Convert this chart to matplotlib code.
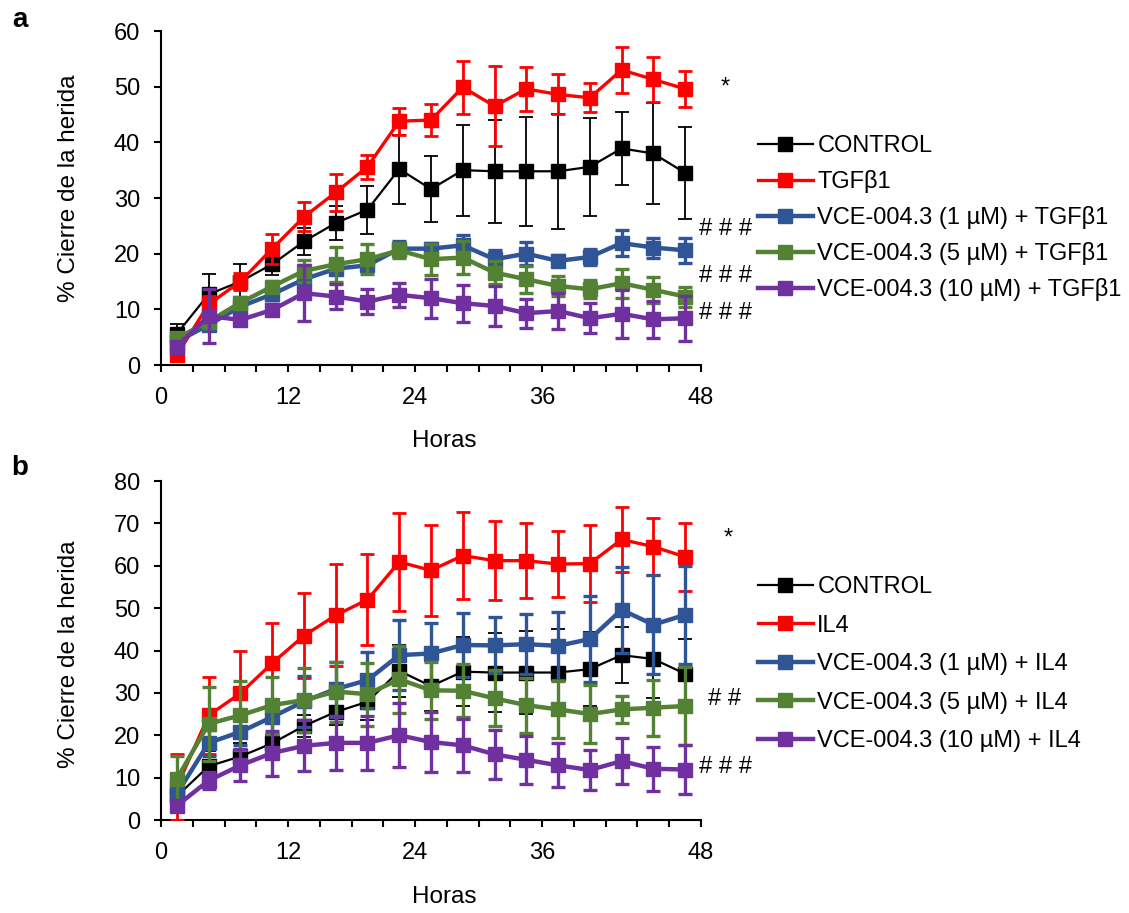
import numpy as np
import matplotlib
matplotlib.use('Agg')
import matplotlib.pyplot as plt

plt.rcParams['font.family'] = ['Liberation Sans', 'DejaVu Sans']
plt.rcParams['font.size'] = 17

# time points (h) - drawn as categories, like the original Excel chart
hours = [0, 3, 6, 9, 12, 15, 18, 21, 24, 27, 30, 33, 36, 39, 42, 45, 48]
xtick_labels = ['0', '', '', '', '12', '', '', '', '24', '', '', '', '36', '', '', '', '', '48']

# shared control
control = [5.6, 12.7, 15.0, 18.1, 22.2, 25.5, 27.9, 35.2, 31.6, 35.0, 34.8, 34.8, 34.8, 35.6, 38.9, 38.0, 34.5]
control_err = [1.8, 3.6, 3.1, 2.0, 2.5, 3.0, 4.3, 6.2, 5.9, 8.2, 9.3, 9.8, 10.3, 8.8, 6.6, 9.1, 8.2]

# panel a - TGFb1
tgf = [1.8, 10.9, 15.0, 20.9, 26.6, 31.0, 35.6, 43.8, 44.0, 49.9, 46.5, 49.6, 48.6, 48.0, 53.0, 51.3, 49.6]
tgf_err = [0.5, 1.5, 1.6, 2.7, 2.6, 3.4, 2.1, 2.4, 2.8, 4.8, 7.2, 4.0, 3.6, 2.6, 4.1, 4.0, 3.2]
tgf_vce1 = [4.2, 7.2, 10.5, 12.7, 15.4, 17.3, 17.9, 20.9, 20.9, 21.5, 19.0, 20.0, 18.7, 19.4, 21.9, 21.1, 20.6]
tgf_vce1_err = [0.5, 1.0, 0.8, 1.0, 1.2, 1.0, 1.0, 1.3, 1.0, 1.9, 1.6, 2.1, 1.0, 1.5, 2.3, 1.8, 2.2]
tgf_vce5 = [4.8, 7.8, 11.2, 14.1, 16.9, 18.1, 19.0, 20.6, 19.0, 19.3, 16.6, 15.4, 14.2, 13.6, 14.7, 13.5, 12.3]
tgf_vce5_err = [0.5, 0.8, 1.0, 1.0, 1.9, 3.1, 2.7, 1.3, 2.8, 2.9, 2.0, 2.4, 1.8, 1.6, 2.6, 2.3, 1.8]
tgf_vce10 = [3.3, 8.8, 8.1, 9.9, 12.9, 12.3, 11.4, 12.6, 12.0, 11.1, 10.6, 9.3, 9.7, 8.4, 9.2, 8.2, 8.4]
tgf_vce10_err = [0.5, 4.8, 1.0, 1.0, 5.0, 2.3, 2.3, 2.2, 3.5, 3.3, 3.6, 2.6, 3.3, 2.7, 4.3, 3.3, 4.0]

# panel b - IL4
il4 = [7.8, 24.7, 29.9, 37.0, 43.5, 48.3, 52.0, 60.9, 58.9, 62.4, 61.2, 61.2, 60.4, 60.5, 66.2, 64.5, 62.1]
il4_err = [7.7, 9.1, 10.0, 9.4, 10.1, 12.0, 10.8, 11.6, 10.7, 10.2, 9.3, 8.8, 7.8, 9.1, 7.7, 6.7, 8.1]
il4_vce1 = [6.2, 18.2, 20.8, 24.3, 28.0, 30.9, 33.0, 38.9, 39.3, 41.3, 41.2, 41.5, 41.1, 42.7, 49.6, 46.1, 48.4]
il4_vce1_err = [2.0, 3.0, 3.0, 4.0, 6.0, 6.5, 6.6, 8.2, 7.1, 7.5, 6.6, 7.1, 8.0, 10.1, 10.1, 11.6, 11.6]
il4_vce5 = [9.7, 22.7, 24.7, 27.1, 28.3, 30.3, 29.7, 33.2, 30.6, 30.5, 28.7, 27.1, 26.1, 25.0, 26.1, 26.5, 26.9]
il4_vce5_err = [5.3, 8.7, 8.2, 6.7, 7.5, 7.1, 7.4, 7.9, 6.8, 6.3, 6.6, 6.5, 6.7, 6.8, 3.1, 6.6, 9.2]
il4_vce10 = [3.4, 9.3, 12.9, 15.8, 17.5, 18.2, 18.2, 20.0, 18.4, 17.6, 15.5, 14.2, 12.9, 11.8, 13.9, 12.1, 11.9]
il4_vce10_err = [1.0, 2.0, 3.8, 5.3, 6.0, 6.3, 6.3, 7.5, 7.0, 6.3, 5.8, 5.7, 5.2, 4.7, 5.4, 5.2, 5.8]

labels_a = ['CONTROL', 'TGFβ1', 'VCE-004.3 (1 µM) + TGFβ1',
            'VCE-004.3 (5 µM) + TGFβ1', 'VCE-004.3 (10 µM) + TGFβ1']
labels_b = ['CONTROL', 'IL4', 'VCE-004.3 (1 µM) + IL4',
            'VCE-004.3 (5 µM) + IL4', 'VCE-004.3 (10 µM) + IL4']

colors = ['#000000', '#FF0000', '#2F5597', '#548235', '#7030A0']
line_w = [1.6, 2.4, 3.2, 3.2, 3.2]
err_w = [1.3, 2.0, 2.4, 2.4, 2.4]

x = np.arange(len(hours)) + 0.5

fig = plt.figure(figsize=(11.29, 9.13), dpi=100)
W, H = 1129, 913


def draw_panel(ax, series, errs, labels, ymax):
    handles = []
    for i, (y, e) in enumerate(zip(series, errs)):
        ax.errorbar(x, y, yerr=e, fmt='none', ecolor=colors[i], elinewidth=err_w[i],
                    capsize=5, capthick=err_w[i], zorder=2 + i)
        h, = ax.plot(x, y, color=colors[i], lw=line_w[i], marker='s', ms=9.8,
                     mfc=colors[i], mec=colors[i], label=labels[i], zorder=2.5 + i)
        handles.append(h)
    ax.set_xlim(0, len(hours))
    ax.set_ylim(0, ymax)
    ax.set_xticks(np.arange(len(hours) + 1))
    ax.set_xticklabels(xtick_labels)
    ax.set_yticks(np.arange(0, ymax + 1, 10))
    for s in ['top', 'right']:
        ax.spines[s].set_visible(False)
    for s in ['left', 'bottom']:
        ax.spines[s].set_linewidth(1.5)
    ax.tick_params(axis='both', direction='out', length=5, width=1.5, labelsize=17)
    ax.tick_params(axis='x', pad=11)
    ax.tick_params(axis='y', pad=10)
    ax.set_xlabel('Horas', fontsize=17.5)
    ax.set_ylabel('% Cierre de la herida', fontsize=17.5)
    return handles


# panel a
ax_a = fig.add_axes([161 / W, 1 - 365 / H, 540 / W, 334 / H])
ha = draw_panel(ax_a, [control, tgf, tgf_vce1, tgf_vce5, tgf_vce10],
                [control_err, tgf_err, tgf_vce1_err, tgf_vce5_err, tgf_vce10_err],
                labels_a, 60)
ax_a.xaxis.set_label_coords(0.524, -0.195)
ax_a.yaxis.set_label_coords(-0.15, 0.53)
ax_a.legend(handles=ha, loc='center left', bbox_to_anchor=(1.106, 0.44), frameon=False,
            borderpad=0, borderaxespad=0, handlelength=2.3, handletextpad=0.2,
            labelspacing=0.55, numpoints=1, fontsize=17)
ax_a.text(1.044, 0.83, '*', transform=ax_a.transAxes, ha='center', va='center', fontsize=17)
for yy in [0.407, 0.266, 0.156]:
    ax_a.text(1.046, yy, '# # #', transform=ax_a.transAxes, ha='center', va='center', fontsize=17)

# panel b
ax_b = fig.add_axes([161 / W, 1 - 820 / H, 540 / W, 339 / H])
hb = draw_panel(ax_b, [control, il4, il4_vce1, il4_vce5, il4_vce10],
                [control_err, il4_err, il4_vce1_err, il4_vce5_err, il4_vce10_err],
                labels_b, 80)
ax_b.xaxis.set_label_coords(0.524, -0.195)
ax_b.yaxis.set_label_coords(-0.15, 0.49)
ax_b.legend(handles=hb, loc='center left', bbox_to_anchor=(1.106, 0.46), frameon=False,
            borderpad=0, borderaxespad=0, handlelength=2.3, handletextpad=0.2,
            labelspacing=0.70, numpoints=1, fontsize=17)
ax_b.text(1.05, 0.83, '*', transform=ax_b.transAxes, ha='center', va='center', fontsize=17)
ax_b.text(1.044, 0.357, '# #', transform=ax_b.transAxes, ha='center', va='center', fontsize=17)
ax_b.text(1.046, 0.156, '# # #', transform=ax_b.transAxes, ha='center', va='center', fontsize=17)

fig.text(20 / W, 1 - 20 / H, 'a', fontsize=20, fontweight='bold', ha='center', va='center')
fig.text(20 / W, 1 - 468 / H, 'b', fontsize=20, fontweight='bold', ha='center', va='center')

fig.savefig('out.png', dpi=100)
